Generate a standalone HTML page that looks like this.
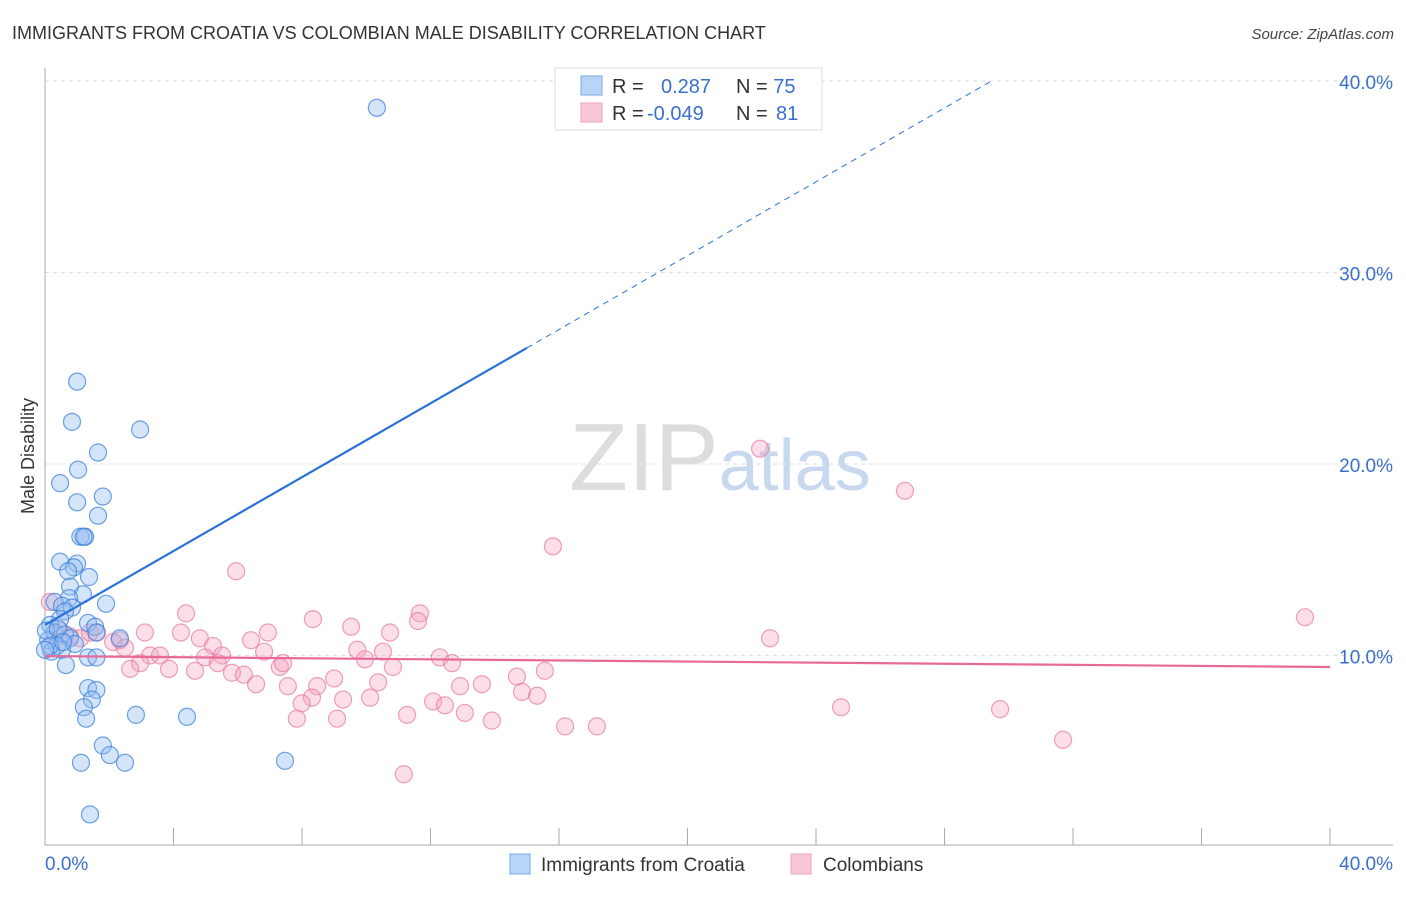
<!DOCTYPE html>
<html><head><meta charset="utf-8"><style>
body{margin:0;background:#fff;font-family:"Liberation Sans",sans-serif;}
svg text{font-family:"Liberation Sans",sans-serif;}
</style></head><body>
<svg id="c" width="1406" height="892" xmlns="http://www.w3.org/2000/svg">
<text x="12" y="39" font-size="18" fill="#333">IMMIGRANTS FROM CROATIA VS COLOMBIAN MALE DISABILITY CORRELATION CHART</text>
<text x="1394" y="39" font-size="15" fill="#444" text-anchor="end" font-style="italic">Source: ZipAtlas.com</text>
<text x="720" y="490" font-size="96" text-anchor="middle" fill="#ddd" font-family="Liberation Serif">ZIP<tspan fill="#c8d8f0" font-family="Liberation Sans" font-size="72">atlas</tspan></text>
<text transform="translate(34,456) rotate(-90)" font-size="18" fill="#333" text-anchor="middle">Male Disability</text>
<g id="grid"></g><g id="pts"></g><g id="trend"></g>
<g>
<rect x="555" y="68" width="267" height="62" fill="#fff" stroke="#ddd"/>
<rect x="581" y="76" width="21" height="19" fill="#b8d4f6" stroke="#7aaae6"/>
<rect x="581" y="103" width="21" height="19" fill="#f9c8d8" stroke="#f0a0bc"/>
<text x="612" y="93" font-size="20" fill="#333">R = <tspan fill="#3a70cc" x="661">0.287</tspan><tspan x="736" fill="#333">N = </tspan><tspan fill="#3a70cc">75</tspan></text>
<text x="612" y="120" font-size="20" fill="#333">R = <tspan fill="#3a70cc" x="647">-0.049</tspan><tspan x="736" fill="#333">N = </tspan><tspan fill="#3a70cc" x="776">81</tspan></text>
</g>
<g>
<rect x="510" y="854" width="20" height="20" fill="#b8d4f6" stroke="#7aaae6"/>
<text x="541" y="871" font-size="19" fill="#333">Immigrants from Croatia</text>
<rect x="791" y="854" width="20" height="20" fill="#f9c8d8" stroke="#f0a0bc"/>
<text x="823" y="871" font-size="19" fill="#333">Colombians</text>
</g>
</svg>
<script>
const yTicks=[10,20,30,40];
const yTickLabels=["10.0%","20.0%","30.0%","40.0%"];
const xTicks=[0,4,8,12,16,20,24,28,32,36,40];
const croatiaX=[10.33,1.0,0.84,2.96,1.65,1.03,0.47,1.8,1.0,1.65,1.1,1.25,1.2,0.47,1.0,0.9,0.72,1.37,0.78,1.18,0.75,1.9,0.3,0.53,0.84,0.62,0.47,1.34,1.56,1.6,2.33,0.16,0.3,0.62,0.1,0.37,0.78,0.53,0.93,0.2,1.34,1.6,0.65,1.34,1.6,1.46,1.21,1.28,2.83,4.42,1.8,2.02,2.49,1.12,7.47,1.4,0.03,0.15,0.4,0.56,0.0];
const croatiaY=[38.6,24.3,22.2,21.8,20.6,19.7,19.0,18.3,18.0,17.3,16.2,16.2,16.2,14.9,14.8,14.6,14.4,14.1,13.6,13.2,13.0,12.7,12.8,12.6,12.5,12.3,11.9,11.7,11.5,11.2,10.9,11.6,11.2,11.1,10.8,10.5,10.9,10.3,10.6,10.2,9.9,9.9,9.5,8.3,8.2,7.7,7.3,6.7,6.9,6.8,5.3,4.8,4.4,4.4,4.5,1.7,11.3,10.5,11.4,10.7,10.3];
const colX=[22.26,26.77,15.81,5.95,39.22,11.67,4.39,8.34,9.53,11.61,10.74,6.94,4.23,3.11,22.57,1.62,2.33,2.12,4.82,5.23,6.41,9.72,10.52,6.82,3.27,3.58,2.49,12.29,4.98,5.51,9.96,12.67,2.96,2.65,3.86,5.38,7.31,7.41,10.83,15.56,4.67,5.82,6.19,6.57,7.56,8.47,9.0,10.37,12.92,13.6,14.69,14.85,15.32,8.31,7.99,9.28,10.12,12.08,12.45,13.07,7.84,9.09,11.27,13.91,16.19,17.18,24.78,29.73,31.69,11.17,0.15,0.3,0.47,0.78,1.1,1.4];
const colY=[20.8,18.6,15.7,14.4,12.0,12.2,12.2,11.9,11.5,11.8,11.2,11.2,11.2,11.2,10.9,11.2,10.8,10.7,10.9,10.5,10.8,10.3,10.2,10.2,10.0,10.0,10.4,9.9,9.9,10.0,9.8,9.6,9.6,9.3,9.3,9.6,9.4,9.6,9.4,9.2,9.2,9.1,9.0,8.5,8.4,8.4,8.8,8.6,8.4,8.5,8.9,8.1,7.9,7.8,7.5,7.7,7.8,7.6,7.4,7.0,6.7,6.7,6.9,6.6,6.3,6.3,7.3,7.2,5.6,3.8,12.8,10.8,11.3,11.0,10.9,11.2];
const blueTrend=[11.6,0.964];
const pinkTrend=[9.97,-0.0143];
const X=v=>45+v*32.125, Y=v=>847-v*19.15;
const NS="http://www.w3.org/2000/svg";
function mk(t,a,p){const e=document.createElementNS(NS,t);for(const k in a)e.setAttribute(k,a[k]);p.appendChild(e);return e;}
const g=document.getElementById('grid');
yTicks.forEach((t,i)=>{
 const l=mk('line',{x1:45,x2:1393,y1:Y(t),y2:Y(t),stroke:'#ddd','stroke-dasharray':'4,4'},g);
 
 
 const tx=mk('text',{x:1393,y:Y(t)+8,'font-size':19,fill:'#3a70cc','text-anchor':'end'},g);tx.textContent=yTickLabels[i];
 
 
});
const ax=mk('line',{x1:45,x2:45,y1:68,y2:845,stroke:'#aaa'},g);


const bx=mk('line',{x1:45,x2:1393,y1:845,y2:845,stroke:'#aaa'},g);


xTicks.forEach(t=>{const l=mk('line',{x1:X(t),x2:X(t),y1:828,y2:845,stroke:'#aaa'},g);
 
 });
[["0.0%",45,"start"],["40.0%",1393,"end"]].forEach(a=>{const t=mk('text',{x:a[1],y:870,'font-size':19,fill:'#3a70cc','text-anchor':a[2]},g);t.textContent=a[0];
 
 });
const p=document.getElementById('pts');
colX.forEach((x,i)=>{const c=mk('circle',{cx:X(x),cy:Y(colY[i]),r:8.5,fill:'rgba(244,160,190,0.35)',stroke:'rgba(232,120,160,0.7)','stroke-width':1.2},p);
 
 });
croatiaX.forEach((x,i)=>{const c=mk('circle',{cx:X(x),cy:Y(croatiaY[i]),r:8.5,fill:'rgba(150,190,240,0.4)',stroke:'rgba(60,130,220,0.75)','stroke-width':1.2},p);
 
 });
const tr=document.getElementById('trend');
const bEnd=(40-blueTrend[0])/blueTrend[1];
let l=mk('line',{x1:X(0),y1:Y(blueTrend[0]),x2:X(15),y2:Y(blueTrend[0]+15*blueTrend[1]),stroke:'#2a72d8','stroke-width':2.2},tr);


l=mk('line',{x1:X(15),y1:Y(blueTrend[0]+15*blueTrend[1]),x2:X(bEnd),y2:Y(40),stroke:'#2a72d8','stroke-width':1,'stroke-dasharray':'6,5'},tr);


l=mk('line',{x1:X(0),y1:Y(pinkTrend[0]),x2:X(40),y2:Y(pinkTrend[0]+40*pinkTrend[1]),stroke:'#e8689a','stroke-width':2.2},tr);


</script>
</body></html>
